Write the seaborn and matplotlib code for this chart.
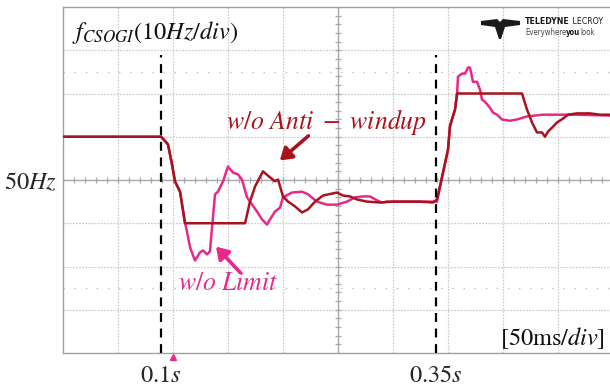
import numpy as np
import pandas as pd
import matplotlib
matplotlib.use("Agg")
import matplotlib.pyplot as plt
import seaborn as sns
from matplotlib.patches import Polygon

# ---------------- data (time in ms, frequency in Hz) ----------------
t_antiwindup = [10, 100, 102.7, 106.4, 110, 112.7, 117.3, 121.8, 176.4, 180.9, 185.5,
                192.7, 199.1, 203.6, 206.4, 210.9, 215.5, 221.8, 228.2, 233.6, 240,
                247.3, 260, 265.5, 271.8, 278.2, 287.3, 299.1, 310.9, 323.6, 335.5,
                347.3, 350.9, 360.9, 362.7, 364.5, 367.3, 369.1, 426.4, 428.2, 432.7,
                437.3, 441.8, 446.4, 449.1, 451.8, 455.5, 460, 465.5, 470, 478.2,
                490, 499.1, 508.2, 515]
f_antiwindup = [60, 60, 59.3, 58.2, 53.6, 49.7, 47.3, 40, 40, 45.0, 48.5,
                52.0, 50.6, 49.7, 50.1, 46.2, 45.0, 43.9, 42.5, 43.2, 45.0,
                46.4, 47.1, 46.4, 46.2, 45.5, 45.0, 44.8, 45.0, 45.0, 45.0,
                44.8, 45.5, 57.0, 62.4, 64.0, 66.3, 70, 70, 70, 66.3,
                63.3, 61.0, 61.0, 60.0, 61.2, 62.1, 63.3, 64.2, 65.1, 65.4,
                65.4, 65.1, 65.1, 65.1]

t_nolimit = [10, 100, 102.7, 106.4, 110, 112.7, 117.3, 121.8, 123.6, 126.4, 130.9,
             135.5, 138.2, 141.8, 144.5, 146.4, 149.1, 151.8, 156.4, 160.9, 165.5,
             170, 173.6, 178.2, 187.3, 191.8, 196.4, 199.1, 203.6, 208.2, 210.9,
             219.1, 228.2, 233.6, 241.8, 250.9, 260, 269.1, 276.4, 283.6, 290,
             296.4, 300.9, 305.5, 317.3, 329.1, 341.8, 350.9, 360.9, 362.7, 364.5,
             367.3, 369.1, 370, 373.6, 376.4, 379.1, 380.9, 383.6, 387.3, 390,
             391.8, 394.5, 399.1, 401.8, 405.5, 410, 417.3, 423.6, 432.7, 447.3,
             462.7, 478.2, 508.2, 515]
f_nolimit = [60, 60, 59.3, 58.2, 53.6, 49.7, 47.3, 40.2, 38.1, 34.4, 31.4,
             33.3, 33.7, 32.8, 33.5, 39.0, 46.7, 47.3, 49.7, 53.1, 51.7,
             51.3, 50.1, 46.0, 42.7, 40.9, 39.7, 40.9, 42.7, 43.6, 46.0,
             47.1, 47.3, 46.7, 45.0, 44.3, 44.3, 45.0, 46.0, 46.2, 46.2,
             45.3, 44.8, 45.0, 45.0, 45.0, 45.0, 45.0, 57.0, 62.4, 64.0,
             66.3, 69.7, 73.9, 74.6, 74.6, 76.0, 76.0, 72.7, 72.7, 70.9,
             68.6, 68.1, 66.7, 65.6, 65.1, 64.0, 63.7, 64.0, 64.7, 65.1,
             65.1, 65.1, 64.9, 64.9]

series_names = ["w/o Anti-windup", "w/o Limit"]
event_times = [100, 350]           # ms
event_labels = ["$0.1s$", "$0.35s$"]
y_center = 50
y_label = "$50Hz$"

DARK_RED = "#a8141e"
PINK = "#e8288a"

df = pd.concat([
    pd.DataFrame({"t": t_antiwindup, "f": f_antiwindup, "series": series_names[0]}),
    pd.DataFrame({"t": t_nolimit, "f": f_nolimit, "series": series_names[1]}),
], ignore_index=True)

# ---------------- figure ----------------
sns.set_style("white")
plt.rcParams["mathtext.fontset"] = "stix"
plt.rcParams["font.family"] = ["DejaVu Sans"]

W, H = 610, 388
fig = plt.figure(figsize=(W / 100, H / 100), dpi=100)
ax = fig.add_axes([63 / W, 35 / H, 550 / W, 346 / H])

t0 = 100 - 98 / 1.1
xmin, xmax = t0, t0 + 500
ymin, ymax = 10, 90

GRID = "#cfcfcf"
CENTER = "#a8a8a8"
FS = 17.5

# division grid (dotted)
for k in range(1, 10):
    if k == 5:
        continue
    ax.axvline(t0 + 50 * k, color=GRID, lw=0.9, ls=(0, (1.5, 1)), zorder=0)
for k in range(1, 8):
    if k == 4:
        continue
    ax.axhline(ymin + 10 * k, color=GRID, lw=0.9, ls=(0, (1.5, 1)), zorder=0)

# cursor lines (sparse dots)
for yc in (75, 25):
    ax.axhline(yc, color="#bdbdbd", lw=1.0, ls=(0, (1, 7)), zorder=0)

# centre cross with small ticks
xc = t0 + 250
ax.axvline(xc, color=CENTER, lw=1.0, zorder=0)
ax.axhline(y_center, color=CENTER, lw=1.0, zorder=0)
xt = np.arange(t0, xmax + 0.1, 10)
ax.plot(xt, np.full_like(xt, y_center), ls="none", marker="|", ms=5,
        mew=0.9, color=CENTER, zorder=0)
yt = np.arange(ymin, ymax + 0.1, 2)
ax.plot(np.full_like(yt, xc), yt, ls="none", marker="_", ms=5,
        mew=0.9, color=CENTER, zorder=0)

# curves (pink drawn first, dark red on top)
sns.lineplot(data=df, x="t", y="f", hue="series",
             hue_order=[series_names[1], series_names[0]],
             palette={series_names[0]: DARK_RED, series_names[1]: PINK},
             estimator=None, sort=False, lw=1.8, legend=False, ax=ax, zorder=3)

# event dashed lines
ax.vlines(event_times, ymin, 79, colors="black", linestyles=(0, (4, 3)), lw=1.6, zorder=4)

ax.set_xlim(xmin, xmax)
ax.set_ylim(ymin, ymax)
ax.set_xticks(event_times)
ax.set_xticklabels(event_labels, fontsize=FS)
ax.set_yticks([y_center])
ax.set_yticklabels([y_label], fontsize=FS)
ax.tick_params(axis="both", length=0)
ax.tick_params(axis="x", pad=7)
ax.tick_params(axis="y", pad=4)
ax.set_xlabel("")
ax.set_ylabel("")
for side in ("left", "top", "bottom"):
    ax.spines[side].set_color("#a0a0a0")
    ax.spines[side].set_linewidth(1.0)
ax.spines["right"].set_visible(False)

# texts
ax.text(0.016, 0.925, r"$f_{CSOGI}(10Hz/div)$", transform=ax.transAxes,
        fontsize=FS, ha="left", va="center", color="#111111")
ax.text(0.985, 0.044, r"$[50\mathrm{ms}/div]$", transform=ax.transAxes,
        fontsize=FS, ha="right", va="center", color="#111111")
ax.text(250, 63.3, r"$w/o\ Anti\ -\ windup$", fontsize=FS + 1, ha="center",
        va="center", color=DARK_RED)
ax.text(161, 26.1, r"$w/o\ Limit$", fontsize=FS + 1, ha="center", va="center",
        color=PINK)

ax.annotate("", xy=(208, 54.5), xytext=(234, 60.2),
            arrowprops=dict(arrowstyle="-|>,head_width=0.45,head_length=0.7",
                            color=DARK_RED, lw=2.6, shrinkA=0, shrinkB=0))
ax.annotate("", xy=(150, 34.6), xytext=(172, 28.6),
            arrowprops=dict(arrowstyle="-|>,head_width=0.45,head_length=0.7",
                            color=PINK, lw=2.6, shrinkA=0, shrinkB=0))

# trigger marker
ax.plot([110.9], [-0.012], marker="^", ms=4, color=PINK, ls="none",
        transform=ax.get_xaxis_transform(), clip_on=False)

# logo
def px(x, y):
    return (x / W, 1 - y / H)

logo = Polygon([px(481, 21), px(497, 19), px(500, 22), px(503, 19), px(520, 21),
                px(520, 25), px(505, 27), px(501, 39), px(499, 39), px(495, 27),
                px(481, 25)], closed=True, transform=fig.transFigure,
               facecolor="#1a1a1a", edgecolor="none")
fig.patches.append(logo)

renderer = fig.canvas.get_renderer()


def run_text(x0, y0, parts, size):
    x = x0
    for s, weight, col in parts:
        t = fig.text(*px(x, y0), s, fontsize=size, fontweight=weight, ha="left",
                     va="center", color=col, fontstretch="condensed")
        bb = t.get_window_extent(renderer=renderer)
        x += bb.width


run_text(525, 22, [("TELEDYNE", "bold", "#1a1a1a"), (" LECROY", "normal", "#1a1a1a")], 6.3)
run_text(525, 32.5, [("Everywhere", "normal", "#444444"), ("you", "bold", "#1a1a1a"),
                     ("look", "normal", "#444444")], 5.6)

fig.savefig("out.png", dpi=100, facecolor="white")
